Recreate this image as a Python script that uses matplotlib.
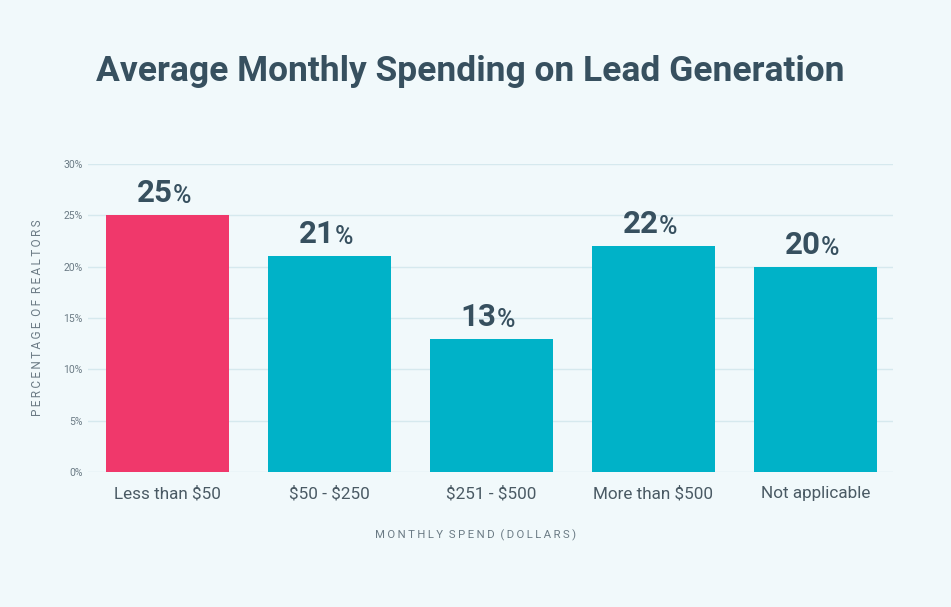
#!/usr/bin/env python3
"""Average monthly spending on lead generation, bar chart."""

import matplotlib
matplotlib.use("Agg")
import matplotlib.pyplot as plt
from matplotlib.transforms import offset_copy

CATEGORIES = ["Less than $50", "$50 - $250", "$251 - $500", "More than $500", "Not applicable"]
VALUES = [25, 21, 13, 22, 20]
Y_TICKS = [0, 5, 10, 15, 20, 25, 30]

BG = "#F1F9FB"
PINK = "#F0386B"
TEAL = "#00B2C8"
DARK = "#37505F"
GRAY = "#6B7B85"
GRID = "#D6E9EE"

plt.rcParams["font.family"] = ["Roboto", "DejaVu Sans"]
plt.rcParams["text.parse_math"] = False


def spaced(s):
    # fake letter spacing with thin spaces
    return "\u2009".join(s).replace("\u2009 \u2009", "  ")


fig = plt.figure(figsize=(9.51, 6.07), dpi=100, facecolor=BG)
ax = fig.add_axes([0.0925, 0.2224, 0.8465, 0.5074], facecolor=BG)

x = range(len(CATEGORIES))
colors = [PINK] + [TEAL] * (len(CATEGORIES) - 1)
ax.bar(x, VALUES, width=0.76, color=colors, zorder=3)

ax.set_xlim(-0.49, 4.48)
ax.set_ylim(0, 30)
ax.set_yticks(Y_TICKS)
ax.set_yticklabels([f"{t}%" for t in Y_TICKS], fontsize=7.5, color=GRAY)
ax.set_xticks(list(x))
ax.set_xticklabels(CATEGORIES, fontsize=12.3, color="#4A5A64")
ax.tick_params(axis="both", length=0)
ax.tick_params(axis="y", pad=4)
ax.tick_params(axis="x", pad=10)
ax.grid(axis="y", color=GRID, linewidth=1, zorder=0)
for s in ax.spines.values():
    s.set_visible(False)

ax.set_ylabel(spaced("PERCENTAGE OF REALTORS"), fontsize=8.5, color=GRAY, labelpad=14)
ax.set_xlabel(spaced("MONTHLY SPEND (DOLLARS)"), fontsize=8.2, color=GRAY, labelpad=20)
ax.xaxis.label.set_x(0.481)

fig.text(0.494, 0.882, "Average Monthly Spending on Lead Generation",
         ha="center", va="center", fontsize=25.5, fontweight="bold", color=DARK)

# value labels: big bold number followed by a smaller percent sign
fig.canvas.draw()
renderer = fig.canvas.get_renderer()
for xi, v in zip(x, VALUES):
    num = ax.text(xi, v, str(v), ha="center", va="bottom", fontsize=22.5,
                  fontweight="bold", color=DARK,
                  transform=offset_copy(ax.transData, fig=fig, x=-9, y=5, units="points"))
    bb = num.get_window_extent(renderer)
    ax.annotate("%", xy=(bb.x1, bb.y0), xycoords="figure pixels", ha="left", va="bottom",
                fontsize=18, fontweight="medium", color=DARK)

fig.savefig("out.png", dpi=100, facecolor=BG)
